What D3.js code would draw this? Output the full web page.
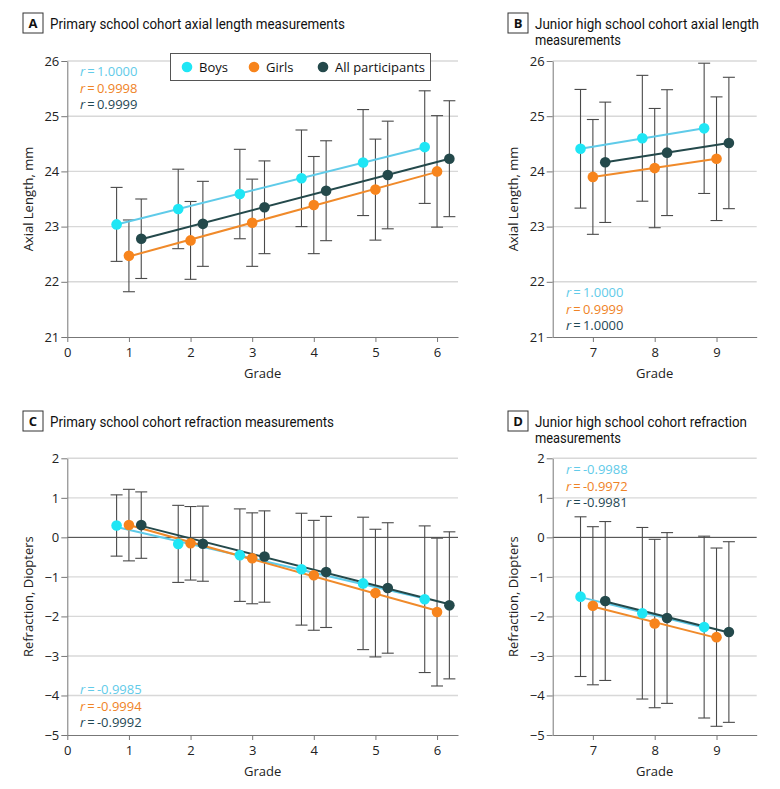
<!DOCTYPE html>
<html><head><meta charset="utf-8">
<script src="https://cdn.jsdelivr.net/npm/d3@7"></script>
<style>
body{margin:0;background:#fff;}
svg text{font-family:"Open Sans","Noto Sans",sans-serif;}
svg text.ttl{font-family:"Liberation Sans Narrow",Roboto,"Open Sans",sans-serif;}
</style></head>
<body><svg id="c" width="780" height="789"></svg>
<script>
// ---------- DATA ----------
const primaryGrades = [1, 2, 3, 4, 5, 6];
const juniorGrades = [7, 8, 9];
const seriesNames = ["Boys", "Girls", "All participants"];
const seriesOffsets = [-0.2, 0, 0.2];

const alBoysPrimary = [23.04, 23.32, 23.59, 23.875, 24.16, 24.44];
const alBoysPrimarySD = [0.67, 0.72, 0.81, 0.875, 0.96, 1.02];
const alGirlsPrimary = [22.47, 22.75, 23.07, 23.39, 23.67, 24.00];
const alGirlsPrimarySD = [0.65, 0.705, 0.79, 0.88, 0.915, 1.01];
const alAllPrimary = [22.78, 23.05, 23.35, 23.65, 23.935, 24.23];
const alAllPrimarySD = [0.72, 0.77, 0.84, 0.905, 0.975, 1.05];

const alBoysJunior = [24.41, 24.60, 24.78];
const alBoysJuniorSD = [1.075, 1.14, 1.18];
const alGirlsJunior = [23.90, 24.06, 24.23];
const alGirlsJuniorSD = [1.04, 1.08, 1.12];
const alAllJunior = [24.165, 24.34, 24.515];
const alAllJuniorSD = [1.09, 1.14, 1.19];

const rfBoysPrimary = [0.30, -0.165, -0.45, -0.805, -1.165, -1.565];
const rfBoysPrimarySD = [0.775, 0.975, 1.17, 1.415, 1.675, 1.855];
const rfGirlsPrimary = [0.31, -0.15, -0.53, -0.96, -1.41, -1.89];
const rfGirlsPrimarySD = [0.905, 0.93, 1.15, 1.39, 1.615, 1.87];
const rfAllPrimary = [0.31, -0.16, -0.485, -0.875, -1.28, -1.72];
const rfAllPrimarySD = [0.84, 0.95, 1.155, 1.405, 1.65, 1.86];

const rfBoysJunior = [-1.50, -1.92, -2.27];
const rfBoysJuniorSD = [2.02, 2.17, 2.30];
const rfGirlsJunior = [-1.73, -2.18, -2.525];
const rfGirlsJuniorSD = [2.0, 2.13, 2.255];
const rfAllJunior = [-1.61, -2.04, -2.395];
const rfAllJuniorSD = [2.01, 2.16, 2.285];

const rA = ["1.0000", "0.9998", "0.9999"];
const rB = ["1.0000", "0.9999", "1.0000"];
const rC = ["-0.9985", "-0.9994", "-0.9992"];
const rD = ["-0.9988", "-0.9972", "-0.9981"];

const alTicks = [21, 22, 23, 24, 25, 26];
const rfTicks = [-5, -4, -3, -2, -1, 0, 1, 2];
const primaryTicks = [0, 1, 2, 3, 4, 5, 6];
const juniorTicks = [7, 8, 9];

// ---------- STYLE ----------
const markerColors = ["#1fe6f5", "#f7841c", "#24494b"];
const lineColors = ["#5fcbe9", "#f08a2a", "#24494b"];
const textColors = ["#62cbe9", "#ef8326", "#1f4854"];

const svg = d3.select("#c");

function panel(opt) {
  const g = svg.append("g");
  const x = d3.scaleLinear().domain(opt.xDomain).range(opt.xRange);
  const y = d3.scaleLinear().domain(opt.yDomain).range(opt.yRange);
  // grid
  g.selectAll(".grid").data(opt.yTicks.filter(t => t !== opt.yDomain[0])).join("line")
    .attr("x1", opt.xRange[0]).attr("x2", opt.xRange[1])
    .attr("y1", d => y(d)).attr("y2", d => y(d))
    .attr("stroke", d => d === 0 ? "#3a3a3a" : "#d8d8d8")
    .attr("stroke-width", d => d === 0 ? 1 : 1.4);
  // y axis
  const ya = g.append("g").attr("transform", `translate(${opt.xRange[0]},0)`)
    .call(d3.axisLeft(y).tickValues(opt.yTicks).tickSize(6).tickSizeOuter(0).tickFormat(d3.format("d")));
  ya.select(".domain").attr("stroke", "#777");
  ya.selectAll(".tick line").attr("stroke", "#777");
  ya.selectAll(".tick text").attr("font-size", 13).attr("fill", "#222").attr("x", -8);
  // x axis
  const xa = g.append("g").attr("transform", `translate(0,${opt.yRange[0]})`)
    .call(d3.axisBottom(x).tickValues(opt.xTicks).tickSize(5).tickSizeOuter(0).tickFormat(d3.format("d")));
  xa.select(".domain").attr("stroke", "#777");
  xa.selectAll(".tick line").attr("stroke", "#777");
  xa.selectAll(".tick text").attr("font-size", 13).attr("fill", "#222").attr("dy", "0.95em");
  // axis titles
  g.append("text").attr("x", (opt.xRange[0] + opt.xRange[1]) / 2).attr("y", opt.yRange[0] + 41)
    .attr("text-anchor", "middle").attr("font-size", 13).attr("fill", "#222").text("Grade");
  g.append("text").attr("transform", `translate(${opt.yLabelX},${(opt.yRange[0] + opt.yRange[1]) / 2}) rotate(-90)`)
    .attr("text-anchor", "middle").attr("font-size", 13).attr("fill", "#222").text(opt.yLabel);

  const cap = 6;
  const series = opt.series.map((s, i) => ({
    i, pts: opt.grades.map((gr, k) => ({ x: gr + seriesOffsets[i], m: s.mean[k], sd: s.sd[k] }))
  }));
  // error bars
  series.forEach(s => {
    const eb = g.append("g").attr("stroke", "#4a4a4a").attr("stroke-width", 1.1).attr("fill", "none");
    s.pts.forEach(p => {
      const cx = x(p.x);
      eb.append("line").attr("x1", cx).attr("x2", cx).attr("y1", y(p.m - p.sd)).attr("y2", y(p.m + p.sd));
      eb.append("line").attr("x1", cx - cap).attr("x2", cx + cap).attr("y1", y(p.m + p.sd)).attr("y2", y(p.m + p.sd));
      eb.append("line").attr("x1", cx - cap).attr("x2", cx + cap).attr("y1", y(p.m - p.sd)).attr("y2", y(p.m - p.sd));
    });
  });
  // fit lines
  series.forEach(s => {
    const n = s.pts.length;
    const mx = d3.mean(s.pts, p => p.x), my = d3.mean(s.pts, p => p.m);
    const b = d3.sum(s.pts, p => (p.x - mx) * (p.m - my)) / d3.sum(s.pts, p => (p.x - mx) ** 2);
    const a = my - b * mx;
    const x0 = s.pts[0].x, x1 = s.pts[n - 1].x;
    g.append("line").attr("x1", x(x0)).attr("x2", x(x1))
      .attr("y1", y(a + b * x0)).attr("y2", y(a + b * x1))
      .attr("stroke", lineColors[s.i]).attr("stroke-width", 2);
  });
  // markers
  series.forEach(s => {
    g.selectAll(null).data(s.pts).join("circle")
      .attr("cx", p => x(p.x)).attr("cy", p => y(p.m)).attr("r", 5.3)
      .attr("fill", markerColors[s.i]);
  });
  // r labels
  opt.rVals.forEach((v, i) => {
    const t = g.append("text").attr("x", opt.rPos[0]).attr("y", opt.rPos[1] + i * 16.7)
      .attr("font-size", 13).attr("font-weight", 500).attr("fill", textColors[i]);
    t.append("tspan").attr("font-style", "italic").attr("font-weight", 400).text("r");
    t.append("tspan").text("\u2009=\u2009" + v);
  });
  // title
  g.append("rect").attr("x", opt.titlePos[0]).attr("y", opt.titlePos[1]).attr("width", 20).attr("height", 20)
    .attr("fill", "#fff").attr("stroke", "#333").attr("stroke-width", 1);
  g.append("text").attr("x", opt.titlePos[0] + 10).attr("y", opt.titlePos[1] + 15)
    .attr("text-anchor", "middle").attr("font-size", 13).attr("font-weight", 700).attr("fill", "#111").text(opt.letter);
  opt.title.forEach((line, i) => {
    g.append("text").attr("class", "ttl").attr("x", opt.titlePos[0] + 27).attr("y", opt.titlePos[1] + 15.5 + i * 16)
      .attr("font-size", 14).attr("fill", "#111")
      .attr("textLength", opt.titleWidths[i]).attr("lengthAdjust", "spacingAndGlyphs").text(line);
  });
  return { x, y, g };
}

const xA = [67.3, 458], xB = [552.7, 756.7];
const yAL = [337, 61], yRF = [735, 458.3];

panel({
  letter: "A", title: ["Primary school cohort axial length measurements"], titleWidths: [295], titlePos: [23, 13],
  xDomain: [0, 6.34], xRange: xA, yDomain: [21, 26], yRange: yAL,
  xTicks: primaryTicks, yTicks: alTicks, grades: primaryGrades, yLabel: "Axial Length, mm", yLabelX: 33,
  series: [{ mean: alBoysPrimary, sd: alBoysPrimarySD }, { mean: alGirlsPrimary, sd: alGirlsPrimarySD }, { mean: alAllPrimary, sd: alAllPrimarySD }],
  rVals: rA, rPos: [80, 76]
});
panel({
  letter: "B", title: ["Junior high school cohort axial length", "measurements"], titleWidths: [224, 86], titlePos: [508, 13],
  xDomain: [6.35, 9.65], xRange: xB, yDomain: [21, 26], yRange: yAL,
  xTicks: juniorTicks, yTicks: alTicks, grades: juniorGrades, yLabel: "Axial Length, mm", yLabelX: 518,
  series: [{ mean: alBoysJunior, sd: alBoysJuniorSD }, { mean: alGirlsJunior, sd: alGirlsJuniorSD }, { mean: alAllJunior, sd: alAllJuniorSD }],
  rVals: rB, rPos: [566, 297]
});
panel({
  letter: "C", title: ["Primary school cohort refraction measurements"], titleWidths: [284], titlePos: [23, 411],
  xDomain: [0, 6.34], xRange: xA, yDomain: [-5, 2], yRange: yRF,
  xTicks: primaryTicks, yTicks: rfTicks, grades: primaryGrades, yLabel: "Refraction, Diopters", yLabelX: 33,
  series: [{ mean: rfBoysPrimary, sd: rfBoysPrimarySD }, { mean: rfGirlsPrimary, sd: rfGirlsPrimarySD }, { mean: rfAllPrimary, sd: rfAllPrimarySD }],
  rVals: rC, rPos: [80, 694]
});
panel({
  letter: "D", title: ["Junior high school cohort refraction", "measurements"], titleWidths: [212, 86], titlePos: [508, 411],
  xDomain: [6.35, 9.65], xRange: xB, yDomain: [-5, 2], yRange: yRF,
  xTicks: juniorTicks, yTicks: rfTicks, grades: juniorGrades, yLabel: "Refraction, Diopters", yLabelX: 518,
  series: [{ mean: rfBoysJunior, sd: rfBoysJuniorSD }, { mean: rfGirlsJunior, sd: rfGirlsJuniorSD }, { mean: rfAllJunior, sd: rfAllJuniorSD }],
  rVals: rD, rPos: [566, 474]
});

// legend
const lg = svg.append("g");
lg.append("rect").attr("x", 170.5).attr("y", 53.5).attr("width", 260).attr("height", 27)
  .attr("fill", "#fff").attr("stroke", "#555");
const legendX = [187, 254, 323];
seriesNames.forEach((n, i) => {
  lg.append("circle").attr("cx", legendX[i]).attr("cy", 67).attr("r", 5.3).attr("fill", markerColors[i]);
  lg.append("text").attr("x", legendX[i] + 12).attr("y", 72).attr("font-size", 13).attr("fill", "#111").text(n);
});
</script></body></html>
